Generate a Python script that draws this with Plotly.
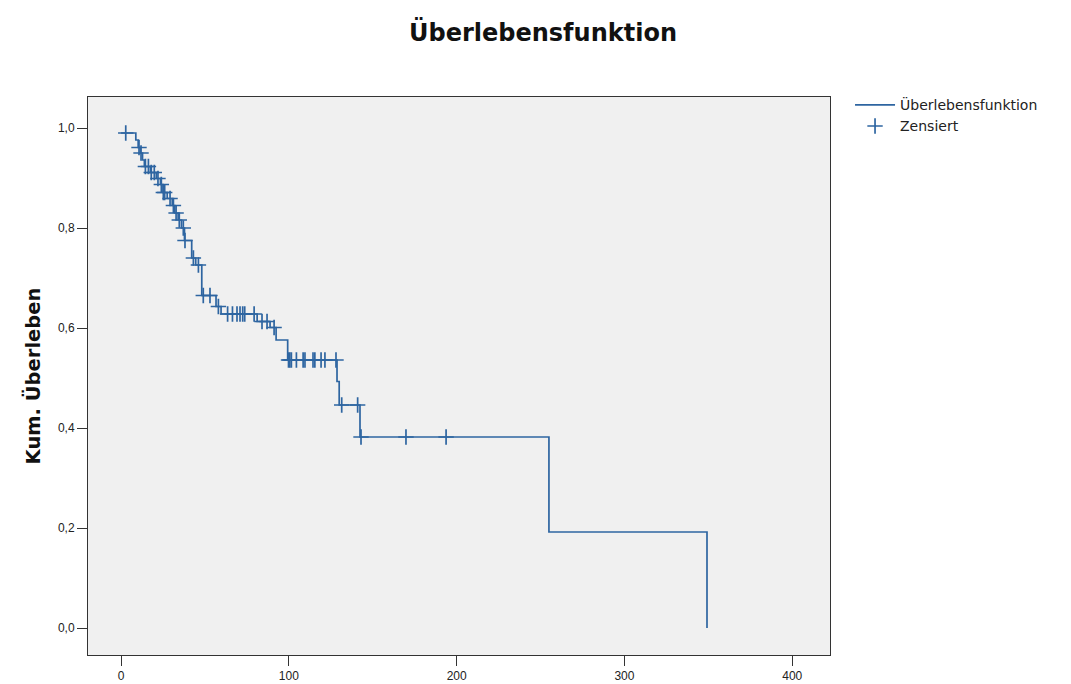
import plotly.graph_objects as go
import bisect

# Kaplan-Meier step data (time, survival after event)
event_times = [0, 8.8, 10.2, 11.5, 12.8, 13.9, 17.5, 21.0, 23.5, 25.0, 27.5, 30.5, 32.0,
               34.0, 36.0, 37.8, 42.1, 44.5, 48.1, 56.6, 59.6, 81.1, 88.8, 92.4, 99.3,
               128.7, 130.0, 142.4, 255.0, 349.2]
surv_after = [0.990, 0.976, 0.961, 0.950, 0.936, 0.923, 0.911, 0.899, 0.887, 0.871, 0.859,
              0.845, 0.830, 0.816, 0.800, 0.775, 0.740, 0.726, 0.665, 0.643, 0.628, 0.613,
              0.601, 0.576, 0.536, 0.493, 0.446, 0.382, 0.192, 0.0]

# Censored observation times
censor_times = [2.8, 10.7, 11.9, 14.5, 16.3, 18.0, 19.8, 22.0, 24.0, 25.2, 26.0, 29.2, 31.2,
                32.8, 34.7, 37.1, 38.1, 43.1, 46.1, 49.0, 53.0, 58.0, 63.5, 66.4, 69.1, 70.9,
                72.5, 73.7, 79.3, 84.0, 87.0, 91.2, 99.8, 100.6, 101.5, 104.5, 108.5, 109.6,
                114.4, 115.5, 119.2, 121.5, 128.1, 131.5, 141.0, 143.0, 169.8, 193.7]

y_ticks = [0.0, 0.2, 0.4, 0.6, 0.8, 1.0]
x_ticks = [0, 100, 200, 300, 400]

def surv_at(t):
    i = bisect.bisect_right(event_times, t) - 1
    return surv_after[max(i, 0)]

censor_surv = [surv_at(t) for t in censor_times]

color = "#2e65a1"
fig = go.Figure()
fig.add_trace(go.Scatter(
    x=event_times, y=surv_after, mode="lines", line=dict(color=color, width=1.7, shape="hv"),
    name="Überlebensfunktion"))
fig.add_trace(go.Scatter(
    x=censor_times, y=censor_surv, mode="markers",
    marker=dict(symbol="cross-thin", size=11, line=dict(color=color, width=1.7), color=color),
    name="Zensiert"))

fig.update_layout(
    width=1071, height=684,
    margin=dict(l=88, r=241, t=97, b=29, autoexpand=False),
    paper_bgcolor="white", plot_bgcolor="#f0f0f0",
    separators=",.",
    font=dict(family="Liberation Sans, Arial, sans-serif", color="#222", size=12),
    title=dict(text="<b>Überlebensfunktion</b>", x=0.507, xanchor="center", y=0.953,
               yanchor="middle", xref="container", yref="container",
               font=dict(size=24, color="#111", family="DejaVu Sans, sans-serif")),
    legend=dict(x=1.027, y=1.014, xanchor="left", yanchor="top",
                bgcolor="rgba(0,0,0,0)",
                font=dict(size=14, color="#222", family="DejaVu Sans, sans-serif"),
                tracegroupgap=0, itemwidth=40),
    showlegend=True,
)
fig.update_xaxes(range=[-19.7, 422.5], tickvals=x_ticks, ticktext=[str(v) for v in x_ticks],
                 showgrid=False, zeroline=False, showline=True, linecolor="#333", linewidth=1,
                 mirror=True, ticks="outside", ticklen=10, tickcolor="#333",
                 tickfont=dict(size=12), automargin=False)
fig.update_yaxes(range=[-0.054, 1.062], tickvals=y_ticks, tickformat=".1f",
                 showgrid=False, zeroline=False, showline=True, linecolor="#333", linewidth=1,
                 mirror=True, ticks="outside", ticklen=10, tickcolor="#333",
                 tickfont=dict(size=12), automargin=False,
                 title=dict(text="<b>Kum. Überleben</b>",
                            font=dict(size=19.5, color="#111", family="DejaVu Sans, sans-serif"),
                            standoff=12))

fig.write_html("out.html")
